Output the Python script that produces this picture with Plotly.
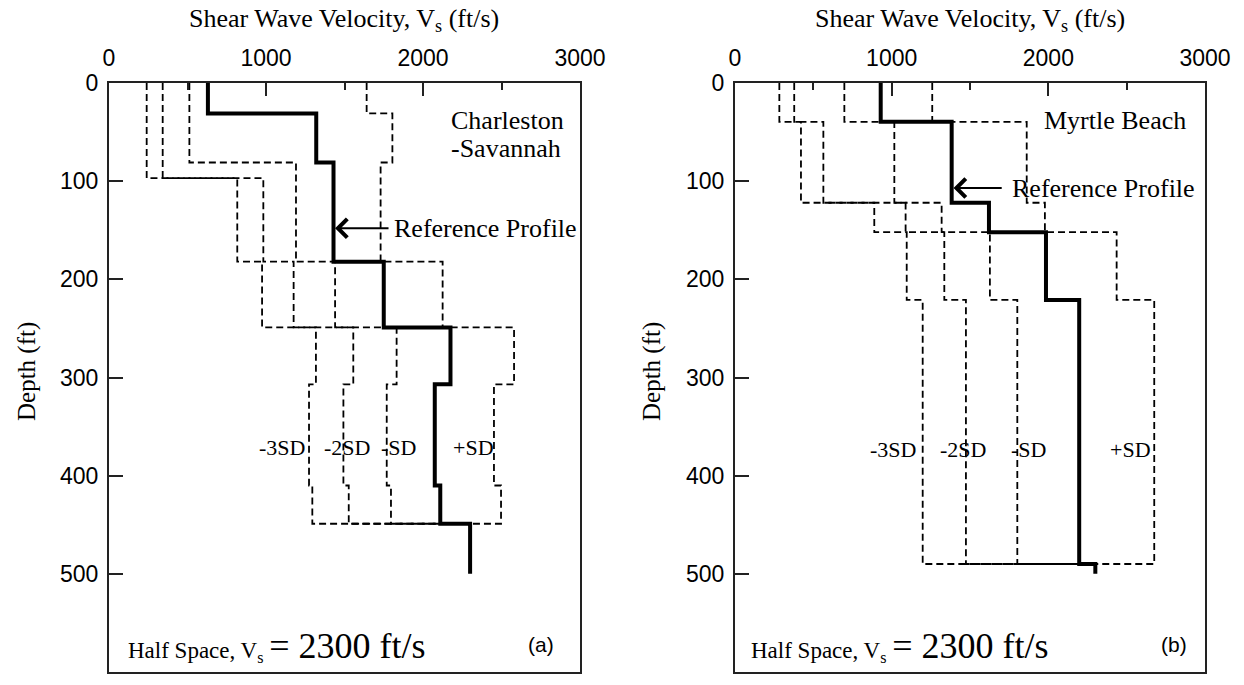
import plotly.graph_objects as go

HALF_SPACE_VS = 2300

# ---------------- Panel (a): Charleston-Savannah ----------------
a_ref_depth = [0, 31, 81, 182, 249, 307, 410, 449, 500]
a_ref_vs = [630, 1320, 1430, 1750, 2175, 2075, 2110, 2300]

a_m3_depth = [0, 97, 182, 249, 307, 410, 449]
a_m3_vs = [240, 817, 975, 1318, 1274, 1295]
a_m2_depth = [0, 97, 182, 249, 307, 410, 449]
a_m2_vs = [342, 983, 1176, 1556, 1493, 1527]
a_m1_depth = [0, 81, 182, 249, 307, 410, 449]
a_m1_vs = [512, 1191, 1440, 1832, 1769, 1796]
a_p1_depth = [0, 31, 81, 182, 249, 307, 410, 449]
a_p1_vs = [1641, 1805, 1730, 2125, 2580, 2452, 2497]

# ---------------- Panel (b): Myrtle Beach ----------------
b_ref_depth = [0, 39.5, 122, 152, 221, 490, 500]
b_ref_vs = [930, 1383, 1621, 1985, 2197, 2300]

b_sd_depth = [0, 39.5, 122, 152, 221, 490]
b_m3_vs = [283, 421, 889, 1096, 1198]
b_m2_vs = [378, 564, 1089, 1336, 1474]
b_m1_vs = [698, 1017, 1319, 1627, 1802]
b_p1_vs = [1259, 1862, 1978, 2436, 2676]

x_ticks = [0, 1000, 2000, 3000]
y_ticks = [0, 100, 200, 300, 400, 500, 600]


def steps(depths, vs, close_to=None):
    xs, ys = [], []
    for i, v in enumerate(vs):
        xs += [v, v]
        ys += [depths[i], depths[i + 1]]
    if close_to is not None:
        xs.append(close_to)
        ys.append(depths[-1])
    return xs, ys


fig = go.Figure()

dash_line = dict(color="black", width=1.8, dash="7px,4px")
ref_line = dict(color="black", width=4)

for dep, vs in [(a_m3_depth, a_m3_vs), (a_m2_depth, a_m2_vs),
                (a_m1_depth, a_m1_vs), (a_p1_depth, a_p1_vs)]:
    x, y = steps(dep, vs, HALF_SPACE_VS)
    fig.add_trace(go.Scatter(x=x, y=y, mode="lines", line=dash_line,
                             xaxis="x", yaxis="y", showlegend=False))
x, y = steps(a_ref_depth, a_ref_vs)
fig.add_trace(go.Scatter(x=x, y=y, mode="lines", line=ref_line,
                         xaxis="x", yaxis="y", showlegend=False))

for vs in [b_m3_vs, b_m2_vs, b_m1_vs, b_p1_vs]:
    x, y = steps(b_sd_depth, vs, HALF_SPACE_VS)
    fig.add_trace(go.Scatter(x=x, y=y, mode="lines", line=dash_line,
                             xaxis="x2", yaxis="y2", showlegend=False))
x, y = steps(b_ref_depth, b_ref_vs)
fig.add_trace(go.Scatter(x=x, y=y, mode="lines", line=ref_line,
                         xaxis="x2", yaxis="y2", showlegend=False))

W, H = 1244, 685
AX_COL = "#222222"
tickfont = dict(family="Liberation Sans, Arial", size=23, color="black")


def xaxis(domain, anchor):
    return dict(domain=domain, anchor=anchor, side="top", range=[0, 3000],
                tickvals=x_ticks, ticks="inside", ticklen=13, tickwidth=1.5,
                tickcolor=AX_COL, showline=True, linecolor=AX_COL, linewidth=2,
                mirror=True, showgrid=False, zeroline=False, tickfont=tickfont,
                ticklabelstandoff=6, automargin=False,
                minor=dict(dtick=500, ticks="inside", ticklen=7, tickwidth=1.5,
                           tickcolor=AX_COL, showgrid=False))


def yaxis(domain, anchor):
    return dict(domain=domain, anchor=anchor, range=[600, 0], tickvals=y_ticks,
                ticks="inside", ticklen=14, tickwidth=1.5, tickcolor=AX_COL,
                showline=True, linecolor=AX_COL, linewidth=2, mirror=True,
                showgrid=False, zeroline=False, tickfont=tickfont,
                ticklabelstandoff=4, automargin=False)


ydom = [1 - 672 / H, 1 - 83 / H]
fig.update_layout(
    width=W, height=H,
    margin=dict(l=0, r=0, t=0, b=0, pad=0, autoexpand=False),
    paper_bgcolor="white", plot_bgcolor="white",
    xaxis=xaxis([109 / W, 580 / W], "y"),
    yaxis=yaxis(ydom, "x"),
    xaxis2=xaxis([735 / W, 1205 / W], "y2"),
    yaxis2=yaxis(ydom, "x2"),
    showlegend=False,
)

serif = "Liberation Serif, Times New Roman, serif"
sans = "Liberation Sans, Arial, sans-serif"
ann = []


def txt(text, x, y, xref, yref, size, family=serif, xanchor="center",
        yanchor="middle", angle=0):
    ann.append(dict(text=text, x=x, y=y, xref=xref, yref=yref, showarrow=False,
                    xanchor=xanchor, yanchor=yanchor, textangle=angle,
                    font=dict(family=family, size=size, color="black")))


# axis titles
txt("Shear Wave Velocity, V<sub>s</sub> (ft/s)", 344 / W, 1 - 20 / H, "paper", "paper", 26)
txt("Shear Wave Velocity, V<sub>s</sub> (ft/s)", 970 / W, 1 - 20 / H, "paper", "paper", 26)
txt("Depth (ft)", 27 / W, 1 - 372 / H, "paper", "paper", 25, angle=-90)
txt("Depth (ft)", 652 / W, 1 - 372 / H, "paper", "paper", 25, angle=-90)

# panel (a)
txt("Charleston", 2535, 38, "x", "y", 26)
txt("-Savannah", 2530, 67, "x", "y", 26)
txt("Reference Profile", 1800, 148, "x", "y", 26, xanchor="left")
for label, xv in [("-3SD", 1100), ("-2SD", 1514), ("-SD", 1841), ("+SD", 2320)]:
    txt(label, xv, 371, "x", "y", 22)
txt("Half Space, V<sub>s</sub> <span style='font-size:36px'>= 2300 ft/s</span>",
    108, 573, "x", "y", 23, xanchor="left")
txt("(a)", 2750, 572, "x", "y", 21, family=sans)

# panel (b)
txt("Myrtle Beach", 2424, 38, "x2", "y2", 26)
txt("Reference Profile", 1755, 107, "x2", "y2", 26, xanchor="left")
for label, xv in [("-3SD", 1006), ("-2SD", 1455), ("-SD", 1876), ("+SD", 2527)]:
    txt(label, xv, 373, "x2", "y2", 22)
txt("Half Space, V<sub>s</sub> <span style='font-size:36px'>= 2300 ft/s</span>",
    87, 573, "x2", "y2", 23, xanchor="left")
txt("(b)", 2800, 572, "x2", "y2", 21, family=sans)

# arrows pointing to reference profiles
for xref, yref, head_x, tail_x, yv in [("x", "y", 1440, 1790, 148),
                                        ("x2", "y2", 1395, 1712, 107)]:
    ann.append(dict(text="", x=head_x, y=yv, ax=tail_x, ay=yv, xref=xref, yref=yref,
                    axref=xref, ayref=yref, showarrow=True, arrowhead=4,
                    arrowsize=1.8, arrowwidth=2, arrowcolor="black"))

fig.update_layout(annotations=ann)
fig.write_html("out.html")
